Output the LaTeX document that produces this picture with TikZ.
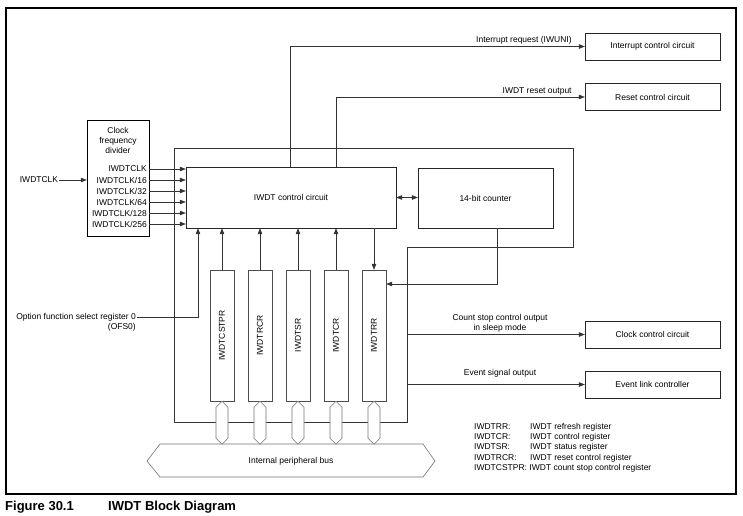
\documentclass[tikz,border=0pt]{standalone}
\usepackage{fontspec}
\setmainfont{Liberation Sans}
\usetikzlibrary{arrows.meta}
\tikzset{
  blk/.style={draw=black!85, minimum width=135pt, minimum height=27pt, inner sep=0pt},
  reg/.style={draw=black!70, minimum width=24pt, minimum height=131pt, inner sep=0pt},
  lbl/.style={inner sep=1pt},
  wire/.style={draw=black!80, line width=0.5pt},
  buscon/.style={draw=black!55, fill=white, line width=0.6pt},
}
\begin{document}
\begin{tikzpicture}[x=1pt,y=-1pt,>={Triangle[length=6pt,width=4.5pt]},font=\fontsize{8.5}{10}\selectfont]
\useasboundingbox (0,0) rectangle (743,515);
\draw[line width=1.6pt] (6,8) rectangle (736,494);
% blocks
\node[draw, minimum width=62pt, minimum height=116pt] (div) at (118,178) {};
\node[align=center, anchor=north, inner sep=0pt] (divt) at (118,127) {Clock\\frequency\\divider};
\node[blk, minimum width=210pt, minimum height=61pt] (ctrl) at (291,197.5) {IWDT control circuit};
\node[blk, minimum height=60pt] (cnt) at (485.5,198) {14-bit counter};
\node[blk] (intc) at (652.5,46.5) {Interrupt control circuit};
\node[blk] (rstc) at (652.5,97) {Reset control circuit};
\node[blk] (clkc) at (652.5,334.5) {Clock control circuit};
\node[blk] (evl) at (652.5,384.5) {Event link controller};
% clock divider outputs
\node[lbl, anchor=east] (clk1) at (148,169) {IWDTCLK};
\foreach \d [count=\i from 2] in {16,32,64,128,256}
  \node[lbl, anchor=east] (clk\i) at (148,158+11*\i) {IWDTCLK/\d};
\foreach \i in {1,...,6}
  \draw[wire,->] (div.east |- clk\i) -- (ctrl.west |- clk\i);
\node[lbl] (clkin) at (39,180) {IWDTCLK};
\draw[wire,->] (clkin.east) -- (div.west |- clkin);
% loop round the control circuit
\coordinate (tap) at (407,247);
\draw[wire] (174,148) -- (573,148) -- (573,247) -- (tap) -- (407,422) -- (174,422) -- cycle;
\draw[wire,->] (tap |- clkc.west) -- (clkc.west);
\draw[wire,->] (tap |- evl.west) -- (evl.west);
\node[lbl, align=center] at (500,323.5) {Count stop control output\\in sleep mode};
\node[lbl] at (500,373) {Event signal output};
% outputs
\draw[wire,->] ([xshift=-1pt]ctrl.north) |- (intc.west);
\draw[wire,->] ([xshift=45pt]ctrl.north) |- (rstc.west);
\node[lbl, anchor=south east] at ([xshift=-12pt,yshift=1pt]intc.west) {Interrupt request (IWUNI)};
\node[lbl, anchor=south east] at ([xshift=-12pt,yshift=1pt]rstc.west) {IWDT reset output};
\draw[wire,<->] (ctrl.east) -- (cnt.west |- ctrl.east);
% registers
\foreach \n/\x in {IWDTCSTPR/222,IWDTRCR/260,IWDTSR/298,IWDTCR/336,IWDTRR/374}
  \node[reg] (\n) at (\x,335.5) {\rotatebox{90}{\n}};
\foreach \n in {IWDTCSTPR,IWDTRCR,IWDTSR,IWDTCR}
  \draw[wire,->] (\n.north) -- (\n.north |- ctrl.south);
\draw[wire,->] (ctrl.south -| IWDTRR) -- (IWDTRR.north);
\draw[wire,->] ([xshift=11.5pt]cnt.south) |- (IWDTRR.east |- 0,284);
% option function select register
\node[lbl, anchor=east] (ofs) at (137,317) {Option function select register 0};
\node[lbl, anchor=north east] at (ofs.south east) {(OFS0)};
\draw[wire,->] (ofs.east) -| ([xshift=-93pt]ctrl.south);
% internal bus
\draw[buscon] (147,461) -- (160,444) -- (423,444) -- (435,461) -- (423,477) -- (160,477) -- cycle;
\node (bus) at (291,461) {Internal peripheral bus};
\foreach \n in {IWDTCSTPR,IWDTRCR,IWDTSR,IWDTCR,IWDTRR}
  \draw[buscon] (\n.south) -- ++(6,6) -- ++(0,31) -- ++(-6,6) -- ++(-6,-6) -- ++(0,-31) -- cycle;
% legend
\foreach \a/\b/\y in {IWDTRR:/IWDT refresh register/427, IWDTCR:/IWDT control register/437,
    IWDTSR:/IWDT status register/447, IWDTRCR:/IWDT reset control register/458}{
  \node[lbl, anchor=west] at (473,\y) {\a};
  \node[lbl, anchor=west] at (529,\y) {\b};
}
\node[lbl, anchor=west] at (473,468) {IWDTCSTPR: IWDT count stop control register};
% caption
\node[anchor=west, inner sep=0pt, font=\bfseries\fontsize{13}{15}\selectfont] at (5,507) {Figure 30.1};
\node[anchor=west, inner sep=0pt, font=\bfseries\fontsize{13}{15}\selectfont] at (108,507) {IWDT Block Diagram};
\end{tikzpicture}
\end{document}
